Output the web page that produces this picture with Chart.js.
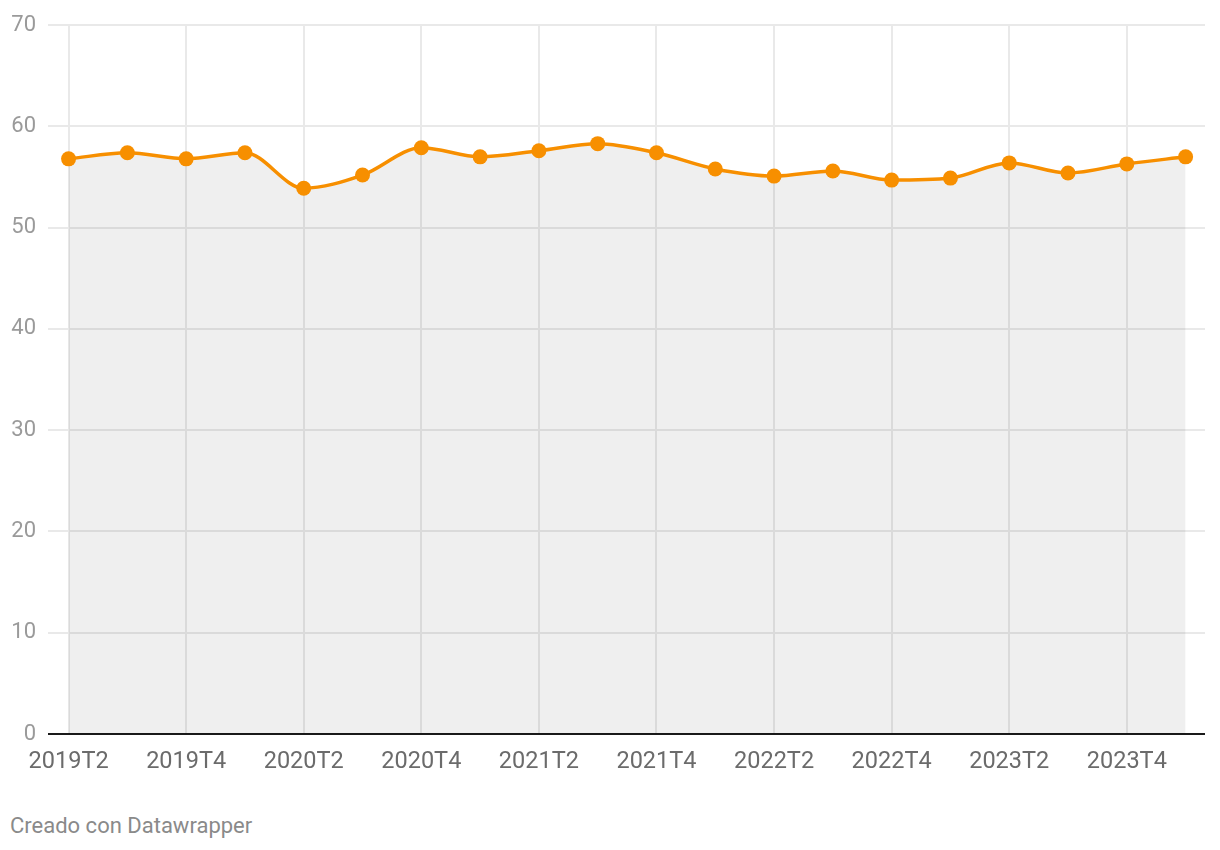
<!DOCTYPE html>
<html>
<head>
<meta charset="utf-8">
<script src="https://cdn.jsdelivr.net/npm/chart.js@4"></script>
<style>
    html, body { margin: 0; padding: 0; background: #fff; }
    #wrap { position: relative; width: 1220px; height: 850px; font-family: Roboto, sans-serif; }
    #chartBox { position: absolute; left: 0; top: 0; width: 1220px; height: 790px; }
    #credit { position: absolute; left: 10px; top: 813px; font-size: 22px; color: #8a8a8a; }
</style>
</head>
<body>
<div id="wrap">
    <div id="chartBox"><canvas id="lineChart"></canvas></div>
    <div id="credit">Creado con Datawrapper</div>
</div>
<script>
// Quarters and values
const quarters = ['2019T2', '2019T3', '2019T4', '2020T1', '2020T2', '2020T3', '2020T4', '2021T1', '2021T2', '2021T3',
                  '2021T4', '2022T1', '2022T2', '2022T3', '2022T4', '2023T1', '2023T2', '2023T3', '2023T4', '2024T1'];
const values = [56.8, 57.4, 56.8, 57.4, 53.9, 55.2, 57.9, 57.0, 57.6, 58.3,
                57.4, 55.8, 55.1, 55.6, 54.7, 54.9, 56.4, 55.4, 56.3, 57.0];
const yTicks = [0, 10, 20, 30, 40, 50, 60, 70];
const xTickIdx = [0, 2, 4, 6, 8, 10, 12, 14, 16, 18];

const points = values.map((v, i) => ({ x: i, y: v }));

new Chart(document.getElementById('lineChart'), {
    type: 'line',
    data: {
        datasets: [{
            data: points,
            borderColor: '#f78f00',
            backgroundColor: 'rgba(0, 0, 0, 0.063)',
            fill: 'origin',
            borderWidth: 3.5,
            cubicInterpolationMode: 'monotone',
            pointRadius: 7.5,
            pointBackgroundColor: '#f78f00',
            pointBorderWidth: 0,
            pointHoverRadius: 7.5
        }]
    },
    options: {
        responsive: true,
        maintainAspectRatio: false,
        animation: false,
        layout: { padding: { top: 14, right: 15, left: 0, bottom: 0 } },
        plugins: {
            legend: { display: false },
            tooltip: { enabled: false }
        },
        scales: {
            x: {
                type: 'linear',
                min: -0.35,
                max: 19.33,
                afterBuildTicks: (scale) => { scale.ticks = xTickIdx.map(v => ({ value: v })); },
                afterFit: (scale) => { scale.height = 56; },
                border: { display: false },
                grid: { color: '#e9e9e9', lineWidth: 2, drawTicks: false },
                ticks: {
                    padding: 14,
                    maxRotation: 0,
                    autoSkip: false,
                    color: '#6b6b6b',
                    font: { family: 'Roboto', size: 23.5 },
                    callback: (v) => quarters[v]
                }
            },
            y: {
                min: 0,
                max: 70,
                afterBuildTicks: (scale) => { scale.ticks = yTicks.map(v => ({ value: v })); },
                afterFit: (scale) => { scale.width = 48; },
                border: { display: false },
                grid: {
                    color: (c) => c.tick.value === 0 ? '#1a1a1a' : '#e9e9e9',
                    lineWidth: 2,
                    drawTicks: false
                },
                ticks: {
                    padding: 12,
                    color: '#9a9a9a',
                    font: { family: 'Roboto', size: 22 }
                }
            }
        }
    }
});
</script>
</body>
</html>
